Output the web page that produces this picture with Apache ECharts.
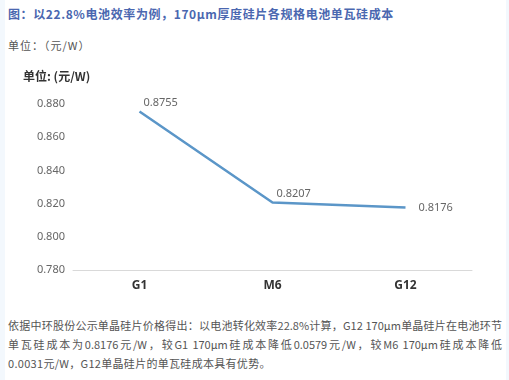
<!DOCTYPE html>
<html><head><meta charset="utf-8">
<script src="https://cdn.jsdelivr.net/npm/echarts@6/dist/echarts.min.js"></script>
<style>
html,body{margin:0;padding:0;width:509px;height:380px;overflow:hidden;background:#f3f8fd;font-family:"Noto Sans CJK SC","Noto Sans",sans-serif;}
#page{position:absolute;left:5px;top:0;width:501px;height:380px;background:#fff;}
.t{position:absolute;white-space:nowrap;}
#title{left:8px;top:5px;font-size:12px;font-weight:bold;color:#4a67b0;letter-spacing:0.6px;}
#unit{left:8px;top:37px;font-size:11px;color:#555;letter-spacing:1px;}
.p{position:absolute;left:8px;width:494px;font-size:11px;color:#555;line-height:19px;letter-spacing:0.3px;white-space:nowrap;}
.j{text-align:justify;text-align-last:justify;white-space:normal;letter-spacing:0;}
#chart{position:absolute;left:0;top:0;width:509px;height:380px;}
</style></head>
<body>
<div id="page"></div>
<div class="t" id="title">图：以22.8%电池效率为例，170μm厚度硅片各规格电池单瓦硅成本</div>
<div class="t" id="unit">单位：（元/W）</div>
<div class="p j" style="top:316px">依据中环股份公示单晶硅片价格得出：以电池转化效率22.8%计算，G12 170μm单晶硅片在电池环节</div>
<div class="p j" style="top:335px">单瓦硅成本为0.8176元/W，较G1 170μm硅成本降低0.0579元/W，较M6 170μm硅成本降低</div>
<div class="p" style="top:354px">0.0031元/W，G12单晶硅片的单瓦硅成本具有优势。</div>
<div id="chart"></div>
<script>
const categories = ['G1', 'M6', 'G12'];
const values = [0.8755, 0.8207, 0.8176];
const yMin = 0.78, yMax = 0.88, yStep = 0.02;
const axisTitle = '单位: (元/W)';

const chart = echarts.init(document.getElementById('chart'), null, {renderer:'canvas'});
chart.setOption({
  animation:false,
  grid:{left:73, right:37, top:104, bottom:110},
  graphic:[{type:'text', left:23, top:70, style:{text:axisTitle, fill:'#333', font:'bold 12px "Noto Sans CJK SC", sans-serif'}}],
  xAxis:{type:'category', data:categories, boundaryGap:true,
    axisLine:{lineStyle:{color:'#d9d9d9', width:1}}, axisTick:{show:false},
    axisLabel:{color:'#333', fontWeight:'bold', fontSize:12, margin:10, fontFamily:'"Noto Sans", sans-serif'}},
  yAxis:{type:'value', min:yMin, max:yMax, interval:yStep,
    axisLine:{show:false}, axisTick:{show:false}, splitLine:{show:false},
    axisLabel:{color:'#666', fontSize:11, margin:8, formatter:v=>v.toFixed(3), fontFamily:'"Noto Sans", sans-serif'}},
  series:[{type:'line',
    data:values.map((v,i)=>({value:v, label: i<2 ? {show:true, position:'right', distance:3, offset:[0,-9]} : {show:true, position:'right', distance:12, offset:[0,0]}})),
    symbol:'circle', symbolSize:2, showSymbol:true, itemStyle:{color:'rgba(0,0,0,0)', borderWidth:0},
    lineStyle:{color:'#5b96c8', width:2.5},
    label:{show:true, color:'#666', fontSize:11, formatter:p=>p.value.toFixed(4), fontFamily:'"Noto Sans", sans-serif'}}]
});
</script>
</body></html>
